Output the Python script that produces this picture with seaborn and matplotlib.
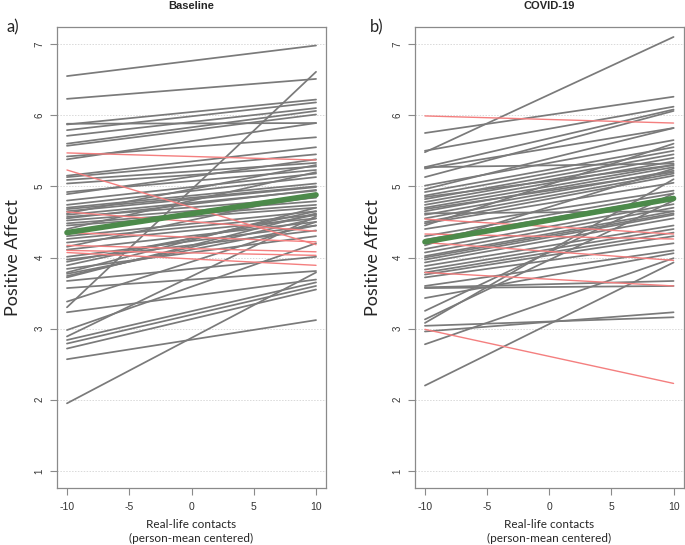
import numpy as np
import pandas as pd
import matplotlib
matplotlib.use("Agg")
import matplotlib.pyplot as plt
import seaborn as sns

# ---------------- data (values at x = -10 and x = +10) ----------------
x_range = [-10, 10]

base_start = [6.55, 6.23, 3.30, 5.87, 5.88, 5.79, 5.71, 5.60, 5.57, 5.42, 5.38,
              5.15, 5.13, 5.09, 5.04, 4.92, 4.89, 4.80, 4.74, 4.70, 4.65, 4.62,
              4.60, 4.57, 4.52, 4.48, 4.45, 4.40, 4.30, 4.26, 4.21, 4.11, 4.01,
              3.94, 3.89, 3.84, 3.79, 3.74, 3.72, 3.67, 3.57, 3.38, 3.23, 2.98,
              2.89, 2.84, 2.79, 2.72, 2.57, 1.95, 4.68, 4.55, 4.35, 3.97, 4.15,
              3.77,
              5.47, 5.23, 4.64, 4.17, 4.10, 4.07, 4.35]
base_end = [6.98, 6.51, 6.61, 6.22, 5.89, 6.18, 6.10, 6.06, 6.01, 5.69, 5.89,
            5.55, 5.45, 5.33, 5.28, 5.23, 5.38, 5.18, 5.13, 5.04, 4.99, 5.30,
            4.94, 4.84, 4.79, 4.74, 4.70, 5.20, 4.65, 4.60, 4.55, 4.50, 4.45,
            4.60, 4.65, 4.30, 4.70, 4.55, 4.62, 4.01, 3.81, 4.50, 3.69, 4.20,
            4.58, 3.65, 3.60, 3.55, 3.12, 3.79, 5.00, 4.95, 4.85, 4.38, 4.90,
            4.45,
            5.37, 4.18, 4.37, 4.08, 4.03, 3.89, 4.22]
base_mean = [4.35, 4.88]

covid_start = [5.48, 5.75, 5.50, 5.27, 5.25, 5.13, 5.01, 4.96, 4.92, 4.87, 4.82,
               4.78, 4.74, 4.70, 4.65, 4.60, 4.55, 4.50, 4.45, 4.40, 4.30, 4.25,
               4.17, 4.12, 4.07, 4.02, 3.97, 3.93, 3.88, 3.83, 3.79, 3.76, 3.72,
               3.57, 3.58, 3.43, 3.25, 3.13, 3.08, 3.04, 2.96, 2.78, 2.20, 4.62,
               4.85, 3.60, 4.48, 5.27, 4.68, 4.00,
               5.99, 2.99, 4.54, 4.33, 4.21, 3.79]
covid_end = [7.10, 6.26, 6.12, 6.08, 5.82, 6.06, 5.65, 5.82, 5.55, 5.50, 5.45,
             5.40, 5.35, 5.30, 5.27, 5.22, 5.18, 5.15, 5.60, 4.94, 4.90, 4.85,
             5.25, 4.75, 4.70, 4.65, 4.60, 4.55, 4.45, 4.40, 4.35, 4.30, 4.20,
             3.60, 3.67, 4.06, 4.90, 4.80, 5.10, 3.16, 3.23, 3.99, 3.93, 4.65,
             5.30, 4.10, 5.05, 5.32, 5.20, 4.62,
             5.89, 2.23, 4.33, 4.26, 3.96, 3.60]
covid_mean = [4.22, 4.83]

panel_titles = ["Baseline", "COVID-19"]
panel_tags = ["a)", "b)"]
y_ticks = [1, 2, 3, 4, 5, 6, 7]
x_ticks = [-10, -5, 0, 5, 10]

# ---------------- style ----------------
sns.set_style("white")
plt.rcParams["font.family"] = ["Liberation Sans", "DejaVu Sans"]

GRAY = "#7a7a7a"
RED = "#f47f7f"
GREEN = "#4c8a4a"
FRAME = "#8a8a8a"


def long_df(starts, ends):
    rows = []
    for i, (s, e) in enumerate(zip(starts, ends)):
        d = "neg" if e < s else "pos"
        rows.append((i, x_range[0], s, d))
        rows.append((i, x_range[1], e, d))
    return pd.DataFrame(rows, columns=["id", "x", "y", "dir"])


fig = plt.figure(figsize=(6.85, 5.45), dpi=100)
W, H = 685, 545
ax_top, ax_bot = 27, 488
axes = [
    fig.add_axes([57 / W, 1 - ax_bot / H, (326 - 57) / W, (ax_bot - ax_top) / H]),
    fig.add_axes([415 / W, 1 - ax_bot / H, (683.5 - 415) / W, (ax_bot - ax_top) / H]),
]

datasets = [(base_start, base_end, base_mean), (covid_start, covid_end, covid_mean)]

for ax, (st, en, mn), title in zip(axes, datasets, panel_titles):
    df = long_df(st, en)
    for yv in y_ticks:
        ax.axhline(yv, color="#d9d9d9", lw=0.7, ls=(0, (1.5, 1.5)), zorder=0)
    sns.lineplot(data=df[df["dir"] == "pos"], x="x", y="y", units="id",
                 estimator=None, color=GRAY, lw=1.25, ax=ax, legend=False)
    sns.lineplot(data=df[df["dir"] == "neg"], x="x", y="y", units="id",
                 estimator=None, color=RED, lw=1.0, ax=ax, legend=False)
    mdf = pd.DataFrame({"x": x_range, "y": mn})
    sns.lineplot(data=mdf, x="x", y="y", color=GREEN, lw=4.0, ax=ax,
                 legend=False, solid_capstyle="round")

    ax.set_xlim(-10.8, 10.8)
    ax.set_ylim(0.76, 7.24)
    ax.set_xticks(x_ticks)
    ax.set_xticklabels([str(v) for v in x_ticks], fontsize=7.5, color="#333333")
    ax.set_yticks(y_ticks)
    ax.set_yticklabels([str(v) for v in y_ticks], fontsize=7, color="#333333",
                       rotation=90, va="center")
    ax.tick_params(axis="both", direction="out", length=5, width=0.8,
                   color=FRAME, left=True, bottom=True)
    ax.tick_params(axis="y", pad=4)
    ax.tick_params(axis="x", pad=5)
    for sp in ax.spines.values():
        sp.set_color(FRAME)
        sp.set_linewidth(0.9)
    ax.set_xlabel("Real-life contacts\n(person-mean centered)", fontsize=8.5,
                  family=["Lato", "DejaVu Sans"], linespacing=1.3, labelpad=5)
    ax.set_ylabel("Positive Affect", fontsize=13, family=["Lato", "DejaVu Sans"])
    ax.set_title(title, fontsize=8, fontweight="bold", pad=13)

axes[0].yaxis.set_label_coords(-0.135, 0.5)
axes[1].yaxis.set_label_coords(-0.125, 0.5)

fig.text(13 / W, 1 - 27 / H, panel_tags[0], fontsize=12, ha="center", va="center",
         family=["Lato", "DejaVu Sans"])
fig.text(377 / W, 1 - 27 / H, panel_tags[1], fontsize=12, ha="center", va="center",
         family=["Lato", "DejaVu Sans"])

fig.savefig("out.png", dpi=100)
